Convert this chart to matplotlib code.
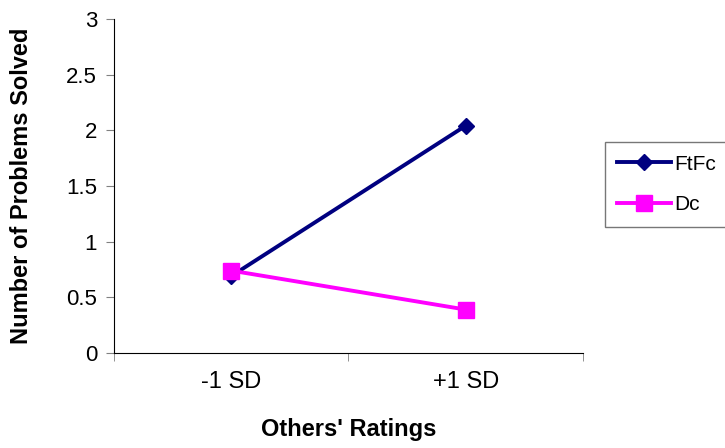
import numpy as np
import matplotlib.pyplot as plt
from matplotlib.ticker import FixedLocator, NullFormatter

plt.rcParams['font.family'] = ['Liberation Sans', 'DejaVu Sans']

# data
groups = ['-1 SD', '+1 SD']
ftfc = [0.69, 2.04]
dc = [0.74, 0.39]

fsz = 16
lsz = 17

fig = plt.figure(figsize=(7.25, 4.48), dpi=100)
ax = fig.add_axes([0.157, 0.212, 0.647, 0.746])

xx = np.arange(len(groups))
ax.plot(xx, ftfc, '-', color='#000080', linewidth=2.8, marker='D',
        markersize=8, label='FtFc')
ax.plot(xx, dc, '-', color='#FF00FF', linewidth=2.8, marker='s',
        markersize=11, label='Dc')

ax.set_xlim(-0.5, 1.5)
ax.set_ylim(0, 3)
ax.set_yticks(np.arange(0, 3.01, 0.5))
ax.set_yticklabels(['0', '0.5', '1', '1.5', '2', '2.5', '3'])
ax.set_xticks(xx)
ax.set_xticklabels(groups)
ax.xaxis.set_minor_locator(FixedLocator([-0.5, 0.5, 1.5]))
ax.xaxis.set_minor_formatter(NullFormatter())
ax.tick_params(axis='x', which='major', length=0, labelsize=fsz + 1, pad=13)
ax.tick_params(axis='x', which='minor', length=6, color='gray', direction='out')
ax.tick_params(axis='y', length=6, color='gray', labelsize=fsz, pad=6)

for side in ['top', 'right']:
    ax.spines[side].set_visible(False)

ax.set_ylabel('Number of Problems Solved', fontsize=lsz, fontweight='bold', labelpad=24)
ax.set_xlabel("Others' Ratings", fontsize=lsz, fontweight='bold', labelpad=18)

leg = fig.legend(loc='upper left', bbox_to_anchor=(0.834, 0.683), fontsize=15,
                 frameon=True, fancybox=False, edgecolor='#555555',
                 handlelength=2.6, handletextpad=0.15, borderpad=0.6,
                 labelspacing=1.05, borderaxespad=0)
leg.get_frame().set_linewidth(1.0)

plt.savefig('out.png', dpi=100)
